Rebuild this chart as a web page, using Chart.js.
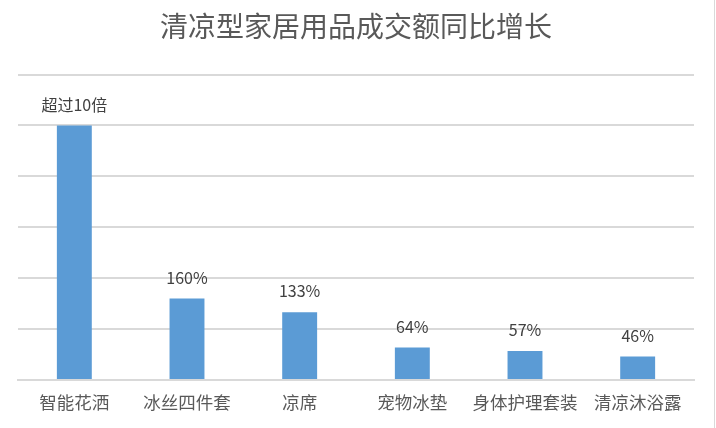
<!DOCTYPE html>
<html>
<head>
<meta charset="utf-8">
<script src="https://cdn.jsdelivr.net/npm/chart.js@4"></script>
<style>
html,body{margin:0;padding:0;background:#fff;}
#wrap{width:716px;height:428px;position:relative;}
</style>
</head>
<body>
<div id="wrap"><canvas id="c" width="716" height="428"></canvas></div>
<script>
const categories = ["智能花洒","冰丝四件套","凉席","宠物冰垫","身体护理套装","清凉沐浴露"];
const growthValues = [500,160,133,64,57,46];
const valueLabels = ["超过10倍","160%","133%","64%","57%","46%"];
const yTicks = [0,100,200,300,400,500,600];

const CJK = '"Noto Sans CJK SC","Noto Sans",sans-serif';

const labelPlugin = {
  id: 'valueLabels',
  afterDatasetsDraw(chart) {
    const ctx = chart.ctx;
    const meta = chart.getDatasetMeta(0);
    ctx.save();
    ctx.font = '16px ' + CJK;
    ctx.fillStyle = '#404040';
    ctx.textAlign = 'center';
    ctx.textBaseline = 'middle';
    meta.data.forEach((bar, i) => {
      ctx.fillText(valueLabels[i], bar.x, bar.y - 21);
    });
    ctx.restore();
  },
  afterDraw(chart) {
    const ctx = chart.ctx;
    ctx.save();
    ctx.strokeStyle = '#d9d9d9';
    ctx.lineWidth = 1;
    ctx.beginPath();
    ctx.moveTo(714.5, 0);
    ctx.lineTo(714.5, chart.height);
    ctx.stroke();
    ctx.restore();
  }
};

new Chart(document.getElementById('c'), {
  type: 'bar',
  data: {
    labels: categories,
    datasets: [{
      data: growthValues,
      backgroundColor: '#5b9bd5',
      borderWidth: 0,
      categoryPercentage: 1,
      barPercentage: 0.31
    }]
  },
  options: {
    responsive: false,
    animation: false,
    devicePixelRatio: 1,
    layout: { padding: { left: 18, right: 22, top: 0, bottom: 3 } },
    plugins: {
      legend: { display: false },
      tooltip: { enabled: false },
      title: {
        display: true,
        text: '清凉型家居用品成交额同比增长',
        color: '#595959',
        font: { family: CJK, size: 28, weight: 'normal', lineHeight: 1.2 },
        padding: { top: 10, bottom: 31 }
      }
    },
    scales: {
      x: {
        grid: { display: false, drawTicks: false },
        border: { display: true, color: '#d9d9d9', width: 2 },
        ticks: {
          color: '#595959',
          font: { family: CJK, size: 17.5, lineHeight: 1.2 },
          padding: 12,
          maxRotation: 0,
          autoSkip: false
        }
      },
      y: {
        min: yTicks[0],
        max: yTicks[yTicks.length - 1],
        afterBuildTicks(axis) { axis.ticks = yTicks.map(v => ({ value: v })); },
        ticks: { display: false },
        grid: { color: '#d9d9d9', lineWidth: 2, drawTicks: false },
        border: { display: false }
      }
    }
  },
  plugins: [labelPlugin]
});
</script>
</body>
</html>
